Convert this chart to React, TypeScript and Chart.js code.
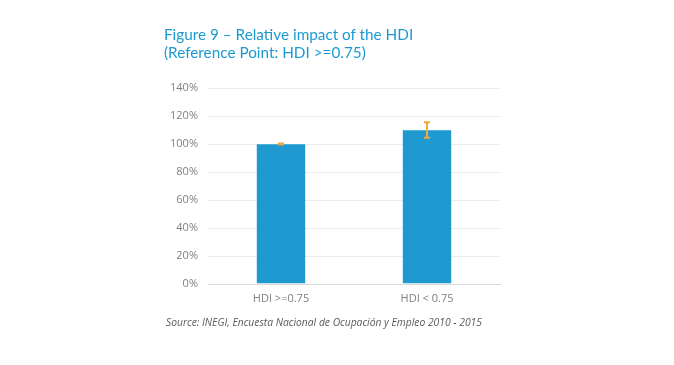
import React, { useEffect, useRef } from "react";
import { Chart, registerables } from "chart.js";

Chart.register(...registerables);

const categories = ["HDI >=0.75", "HDI < 0.75"];
const values = [100, 110];
const errLow = [99.6, 104.5];
const errHigh = [100.4, 115.5];
const yTicks = [0, 20, 40, 60, 80, 100, 120, 140];

const errorBarPlugin = {
  id: "errorBars",
  afterDatasetsDraw(chart: any) {
    const { ctx, scales } = chart;
    const meta = chart.getDatasetMeta(0);
    ctx.save();
    ctx.strokeStyle = "#F5A53A";
    ctx.lineWidth = 2;
    meta.data.forEach((bar: any, i: number) => {
      const x = bar.x;
      const yl = scales.y.getPixelForValue(errLow[i]);
      const yh = scales.y.getPixelForValue(errHigh[i]);
      ctx.beginPath();
      ctx.moveTo(x, yl);
      ctx.lineTo(x, yh);
      ctx.moveTo(x - 3, yl);
      ctx.lineTo(x + 3, yl);
      ctx.moveTo(x - 3, yh);
      ctx.lineTo(x + 3, yh);
      ctx.stroke();
    });
    ctx.restore();
  },
};

export default function App() {
  const ref = useRef<HTMLCanvasElement>(null);
  useEffect(() => {
    if (!ref.current) return;
    const chart = new Chart(ref.current, {
      type: "bar",
      data: {
        labels: categories,
        datasets: [
          {
            data: values,
            backgroundColor: "#1E9AD0",
            borderColor: "#4FB2DC",
            borderWidth: { top: 1, left: 0, right: 0, bottom: 0 } as any,
            barPercentage: 0.67,
            categoryPercentage: 0.5,
          },
        ],
      },
      options: {
        animation: false,
        responsive: false,
        devicePixelRatio: 1,
        layout: { padding: { left: 150, right: 174, top: 88, bottom: 51 } },
        plugins: { legend: { display: false }, tooltip: { enabled: false }, title: { display: false } },
        scales: {
          x: {
            grid: { display: false, drawTicks: false },
            border: { color: "#D9D9D9", width: 1 },
            ticks: { color: "#7F7F7F", font: { family: "Open Sans", size: 11 }, padding: 8 },
            afterFit: (s: any) => { s.height = 30; },
          },
          y: {
            min: 0,
            max: 140,
            afterBuildTicks: (s: any) => { s.ticks = yTicks.map((v) => ({ value: v })); },
            grid: { color: "#EBEBEB", drawTicks: false },
            border: { display: false },
            ticks: {
              color: "#7F7F7F",
              font: { family: "Open Sans", size: 11 },
              padding: 10,
              callback: (v: any) => v + "%",
            },
            afterFit: (s: any) => { s.width = 58; },
          },
        },
      },
      plugins: [errorBarPlugin],
    });
    return () => chart.destroy();
  }, []);
  return (
    <div style={{ position: "absolute", left: 0, top: 0, width: 674, height: 365, background: "#fff" }}>
      <canvas ref={ref} width={674} height={365} style={{ position: "absolute", left: 0, top: 0 }} />
      <div
        style={{
          position: "absolute",
          left: 164,
          top: 25,
          fontFamily: "Lato, 'Open Sans', sans-serif",
          fontSize: 15.3,
          lineHeight: "18px",
          color: "#1B9AD2",
          whiteSpace: "nowrap",
        }}
      >
        <div>Figure 9 – Relative impact of the HDI</div>
        <div>(Reference Point: HDI &gt;=0.75)</div>
      </div>
      <div
        style={{
          position: "absolute",
          left: 166,
          top: 315,
          fontFamily: "'Open Sans', sans-serif",
          fontStyle: "italic",
          fontSize: 10.3,
          color: "#595959",
          whiteSpace: "nowrap",
        }}
      >
        Source: INEGI, Encuesta Nacional de Ocupación y Empleo 2010 - 2015
      </div>
    </div>
  );
}
